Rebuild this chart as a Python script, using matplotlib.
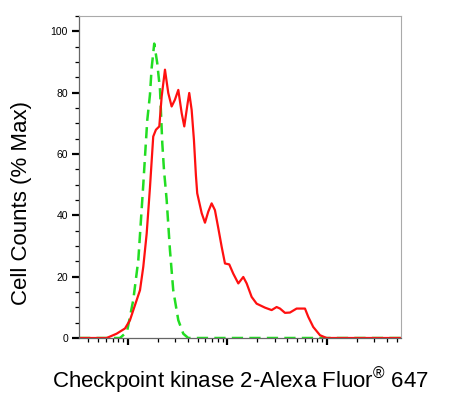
import numpy as np
import matplotlib
matplotlib.use("Agg")
import matplotlib.pyplot as plt
from matplotlib.ticker import LogLocator, NullFormatter, MultipleLocator

plt.rcParams["font.family"] = ["Liberation Sans", "DejaVu Sans"]
plt.rcParams["mathtext.fontset"] = "custom"
plt.rcParams["mathtext.rm"] = "Liberation Sans"

# sample curve (red), x given as log10 of intensity
red_logx = [2.508, 2.786, 2.886, 2.970, 3.020, 3.087, 3.121, 3.154, 3.188, 3.221,
            3.254, 3.281, 3.315, 3.339, 3.372, 3.405, 3.439, 3.472, 3.506, 3.540,
            3.566, 3.600, 3.616, 3.640, 3.663, 3.683, 3.696, 3.741, 3.774, 3.807,
            3.841, 3.874, 3.908, 3.942, 3.975, 4.018, 4.058, 4.109, 4.159, 4.193,
            4.243, 4.293, 4.377, 4.444, 4.494, 4.528, 4.578, 4.628, 4.695, 4.779,
            4.812, 4.862, 4.930, 4.997, 5.744]
red_pct = [0, 0, 1.4, 3.1, 5.8, 12.3, 15.6, 23.2, 34, 49,
           65.7, 67.9, 69, 78.8, 87.5, 79.9, 75.5, 77.7, 80.9, 73.3,
           69, 76.6, 79.9, 74.4, 64.6, 53, 47.2, 40.7, 37.6, 41.2,
           43.9, 41.7, 35.8, 29.7, 24.3, 24.0, 21.0, 17.8, 19.9, 17.8,
           13.4, 11.2, 9.9, 9.1, 10.1, 9.6, 8.2, 8.3, 9.6, 9.6,
           6.9, 3.6, 0.9, 0, 0]

# isotype control (green dashed)
green_logx = [2.508, 2.920, 2.990, 3.053, 3.104, 3.154, 3.171, 3.194, 3.221, 3.238,
              3.264, 3.294, 3.322, 3.345, 3.362, 3.389, 3.422, 3.455, 3.506, 3.556,
              3.606, 5.744]
green_pct = [0, 0, 2, 12.3, 25.4, 50, 59, 71, 79.3, 88,
             96, 89.7, 81, 63.5, 54.8, 45, 28.7, 15.6, 5.8, 1.4,
             0, 0]

fig = plt.figure(figsize=(4.56, 3.99), dpi=100)
ax = fig.add_axes([79 / 456, 1 - 338 / 399, 322 / 456, 322 / 399])

ax.plot(10 ** np.array(green_logx), green_pct, color="#22dd22", lw=1.8,
        dashes=(4.5, 2.5))
ax.plot(10 ** np.array(red_logx), red_pct, color="#ff1010", lw=1.6)

ax.set_xscale("log")
ax.set_xlim(10 ** 2.508, 10 ** 5.744)
ax.set_ylim(0, 105)

ax.xaxis.set_major_locator(LogLocator(base=10, numticks=10))
ax.xaxis.set_minor_locator(LogLocator(base=10, subs=np.arange(2, 10), numticks=20))
ax.xaxis.set_major_formatter(NullFormatter())
ax.xaxis.set_minor_formatter(NullFormatter())

ax.yaxis.set_major_locator(MultipleLocator(20))
ax.yaxis.set_minor_locator(MultipleLocator(5))

ax.tick_params(axis="both", which="major", length=5, width=1.6, color="black",
               labelsize=7.5, pad=3)
ax.tick_params(axis="both", which="minor", length=3, width=0.9, color="black")

for side in ["top", "right"]:
    ax.spines[side].set_color("#aaaaaa")
    ax.spines[side].set_linewidth(0.8)
for side in ["left", "bottom"]:
    ax.spines[side].set_color("#666666")
    ax.spines[side].set_linewidth(0.9)

ax.set_ylabel("Cell Counts (% Max)", fontsize=16)
ax.yaxis.set_label_coords(-0.146, 0.42)
ax.set_xlabel("Checkpoint kinase 2-Alexa Fluor$^{\\mathrm{®}}$ 647", fontsize=16,
              labelpad=12)

fig.savefig("out.png", dpi=100)
